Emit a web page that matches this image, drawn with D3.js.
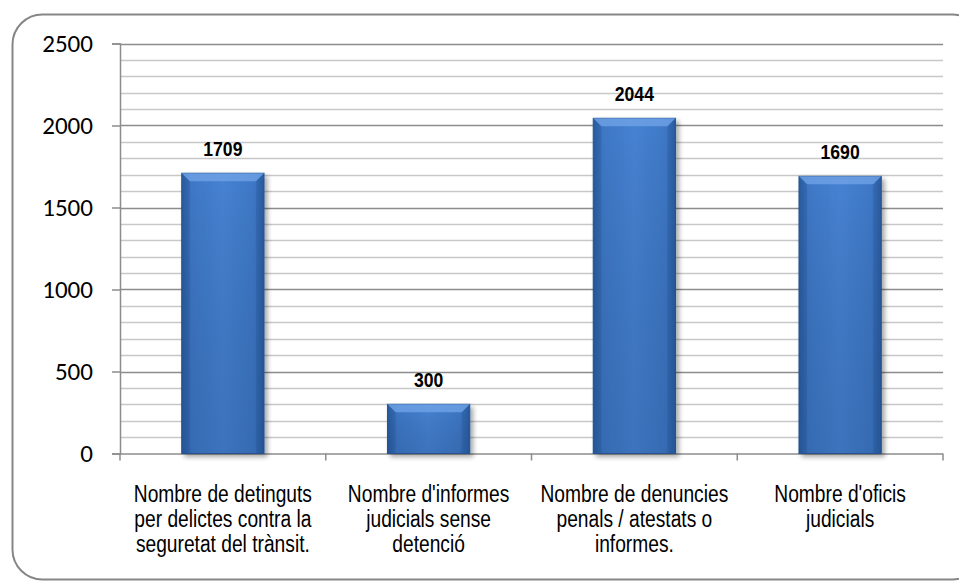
<!DOCTYPE html>
<html><head><meta charset="utf-8">
<script src="https://cdn.jsdelivr.net/npm/d3@7/dist/d3.min.js"></script>
<style>body{margin:0;background:#fff;} svg{display:block;}</style>
</head><body>
<script>
const categories = [
  ["Nombre de detinguts", "per delictes contra la", "seguretat del trànsit."],
  ["Nombre d'informes", "judicials sense", "detenció"],
  ["Nombre de denuncies", "penals / atestats o", "informes."],
  ["Nombre d'oficis", "judicials"]
];
const values = [1709, 300, 2044, 1690];
const yTicks = [0, 500, 1000, 1500, 2000, 2500];
const minorTicks = d3.range(0, 2501, 100);

(function(){
const W = 959, H = 581;
const svg = d3.select("body").append("svg").attr("width", W).attr("height", H);
const defs = svg.append("defs");
const g1 = defs.append("linearGradient").attr("id","barg").attr("x1","0").attr("x2","1").attr("y1","0").attr("y2","0");
g1.append("stop").attr("offset","0").attr("stop-color","#2d5fa3");
g1.append("stop").attr("offset","0.12").attr("stop-color","#3e78c6");
g1.append("stop").attr("offset","0.5").attr("stop-color","#4682d2");
g1.append("stop").attr("offset","0.88").attr("stop-color","#3e78c6");
g1.append("stop").attr("offset","1").attr("stop-color","#2d5fa3");
const g2 = defs.append("linearGradient").attr("id","barv").attr("x1","0").attr("x2","0").attr("y1","0").attr("y2","1");
g2.append("stop").attr("offset","0").attr("stop-color","#000").attr("stop-opacity","0");
g2.append("stop").attr("offset","1").attr("stop-color","#10305a").attr("stop-opacity","0.18");
const flt = defs.append("filter").attr("id","sh").attr("x","-20%").attr("y","-10%").attr("width","150%").attr("height","130%");
flt.append("feGaussianBlur").attr("in","SourceAlpha").attr("stdDeviation","2.5");
flt.append("feOffset").attr("dx","3").attr("dy","3").attr("result","b");
flt.append("feComponentTransfer").append("feFuncA").attr("type","linear").attr("slope","0.35");
const fm = flt.append("feMerge"); fm.append("feMergeNode"); fm.append("feMergeNode").attr("in","SourceGraphic");

svg.append("rect").attr("x",12.5).attr("y",14.5).attr("width",970).attr("height",565)
  .attr("rx",30).attr("ry",30).attr("fill","#fff").attr("stroke","#868686").attr("stroke-width",2);

const pl = 120, pr = 943, pt = 43.5, pb = 453.5;
const x = d3.scaleBand().domain(d3.range(values.length)).range([pl, pr]).paddingInner(0).paddingOuter(0);
const y = d3.scaleLinear().domain([0, 2500]).range([pb, pt]);

svg.append("g").selectAll("line").data(minorTicks.filter(d => d % 500 !== 0)).join("line")
  .attr("x1", pl).attr("x2", pr).attr("y1", d => Math.round(y(d))+0.5).attr("y2", d => Math.round(y(d))+0.5)
  .attr("stroke","#c8c8c8").attr("stroke-width",1.5);
svg.append("g").selectAll("line").data(yTicks.filter(d => d>0)).join("line")
  .attr("x1", pl).attr("x2", pr).attr("y1", d => Math.round(y(d))+0.5).attr("y2", d => Math.round(y(d))+0.5)
  .attr("stroke","#8c8c8c").attr("stroke-width",1.5);

const yAxis = d3.axisLeft(y).tickValues(yTicks).tickSize(8).tickPadding(19).tickFormat(d3.format("d"));
const ya = svg.append("g").attr("transform",`translate(${pl},0)`).call(yAxis);
ya.attr("font-family", null).attr("font-size", null);
ya.select(".domain").attr("stroke","#8c8c8c").attr("stroke-width",1.5);
ya.selectAll(".tick line").attr("stroke","#8c8c8c").attr("stroke-width",1.5);
ya.selectAll(".tick text").style("font-family","Carlito, Calibri, 'Open Sans', sans-serif").style("font-size","25px").attr("fill","#000");
ya.selectAll(".tick text").each(function(){
  const t = d3.select(this), n = t.text().length, w = this.getComputedTextLength();
  const target = 12.7*n;
  if (w > 0) t.style("font-size", (25*target/w)+"px");
});

svg.append("line").attr("x1",pl).attr("x2",pr).attr("y1",pb+0.5).attr("y2",pb+0.5).attr("stroke","#8c8c8c").attr("stroke-width",1.5);
const bounds = d3.range(values.length+1).map(i => i < values.length ? x(i) : pr);
svg.append("g").selectAll("line").data(bounds).join("line")
  .attr("x1", d=>d).attr("x2", d=>d).attr("y1", pb).attr("y2", pb+7)
  .attr("stroke","#8c8c8c").attr("stroke-width",1.5);

const bw = x.bandwidth()*0.4;
const bx = i => x(i)+(x.bandwidth()-bw)/2;
const bars = svg.append("g").selectAll("g").data(values).join("g");
bars.append("rect").attr("x",(d,i)=>bx(i)).attr("y",d=>y(d)).attr("width",bw).attr("height",d=>pb-y(d))
  .attr("fill","url(#barg)").attr("stroke","#2a5794").attr("stroke-width",1).attr("filter","url(#sh)");
bars.append("rect").attr("x",(d,i)=>bx(i)).attr("y",d=>y(d)).attr("width",bw).attr("height",d=>pb-y(d))
  .attr("fill","url(#barv)");
bars.append("path").attr("d",(d,i)=>{
  const x0 = bx(i), x1 = x0+bw, y0 = y(d), b = 8;
  return `M${x0},${y0}L${x1},${y0}L${x1-b},${y0+b}L${x0+b},${y0+b}Z`;
}).attr("fill","#6fa3e6").attr("opacity",0.8);
bars.append("path").attr("d",(d,i)=>{
  const x0 = bx(i), y0 = y(d), b = 8;
  return `M${x0},${y0}L${x0+b},${y0+b}L${x0+b},${pb}L${x0},${pb}Z`;
}).attr("fill","#1e4c8a").attr("opacity",0.2);
bars.append("path").attr("d",(d,i)=>{
  const x1 = bx(i)+bw, y0 = y(d), b = 8;
  return `M${x1},${y0}L${x1-b},${y0+b}L${x1-b},${pb}L${x1},${pb}Z`;
}).attr("fill","#1e4c8a").attr("opacity",0.2);

const dl = svg.append("g").selectAll("text").data(values).join("text")
  .attr("x",(d,i)=>x(i)+x.bandwidth()/2).attr("y",d=>y(d)-17.5)
  .attr("text-anchor","middle").attr("font-family","'Liberation Sans', Arial, sans-serif")
  .attr("font-weight","bold").attr("font-size","20px").attr("fill","#000").text(d=>d);
dl.each(function(){
  const t = d3.select(this), cx = +t.attr("x");
  t.attr("transform", `translate(${cx},0) scale(0.88,1) translate(${-cx},0)`);
});

const cl = svg.append("g").selectAll("text").data(categories).join("text")
  .attr("x",(d,i)=>x(i)+x.bandwidth()/2).attr("y",502)
  .attr("text-anchor","middle").attr("font-family","'Liberation Sans', Arial, sans-serif")
  .attr("font-size","23px").attr("fill","#000");
cl.selectAll("tspan").data(d=>d).join("tspan")
  .attr("x",function(){return this.parentNode.getAttribute("x");})
  .attr("dy",(d,i)=>i===0?0:25).text(d=>d);
cl.each(function(){
  const t = d3.select(this), cx = +t.attr("x");
  t.attr("transform", `translate(${cx},0) scale(0.835,1) translate(${-cx},0)`);
});
})();
</script>
</body></html>
